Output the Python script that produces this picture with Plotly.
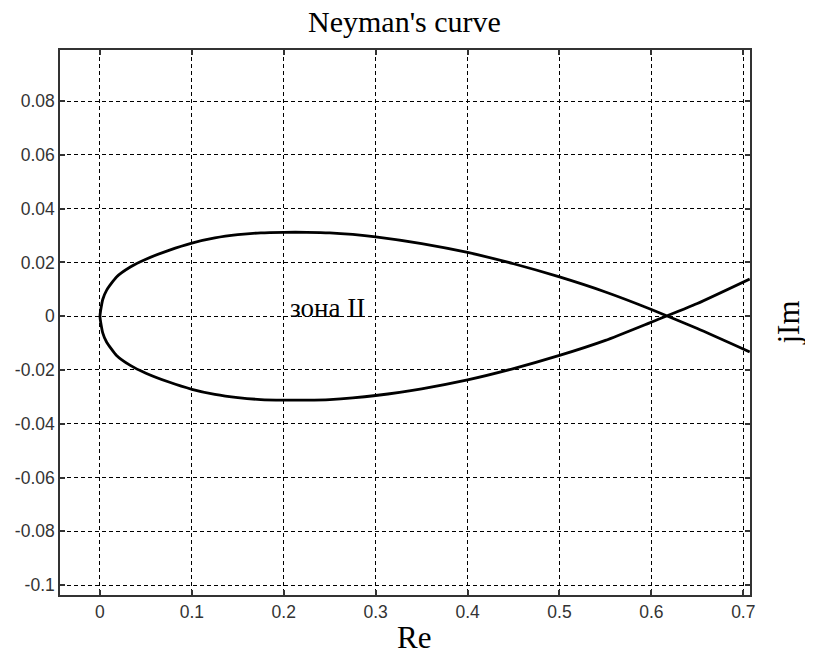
import plotly.graph_objects as go

# Upper branch (Im > 0 near origin)
upper_re = [0.0, 0.003, 0.0073, 0.018, 0.033, 0.05, 0.075, 0.1, 0.125, 0.15, 0.175, 0.2, 0.225, 0.25, 0.275, 0.3, 0.35, 0.4, 0.45, 0.5, 0.55, 0.6, 0.65, 0.707]
upper_im = [0.0, 0.0062, 0.0097, 0.0146, 0.0183, 0.0212, 0.0245, 0.0272, 0.0291, 0.0303, 0.0310, 0.0312, 0.0312, 0.0310, 0.0304, 0.0295, 0.0270, 0.0237, 0.0195, 0.0146, 0.0090, 0.0025, -0.0046, -0.0133]
# Lower branch
lower_re = [0.0, 0.003, 0.0073, 0.018, 0.033, 0.05, 0.075, 0.1, 0.125, 0.15, 0.175, 0.2, 0.225, 0.25, 0.275, 0.3, 0.35, 0.4, 0.45, 0.5, 0.55, 0.6, 0.65, 0.707]
lower_im = [0.0, -0.0062, -0.0097, -0.0146, -0.0183, -0.0212, -0.0245, -0.0272, -0.0291, -0.0303, -0.0310, -0.0312, -0.0312, -0.0310, -0.0304, -0.0295, -0.0270, -0.0237, -0.0195, -0.0146, -0.0090, -0.0022, 0.0047, 0.0138]

x_ticks = [0, 0.1, 0.2, 0.3, 0.4, 0.5, 0.6, 0.7]
x_labels = ["0", "0.1", "0.2", "0.3", "0.4", "0.5", "0.6", "0.7"]
y_ticks = [-0.1, -0.08, -0.06, -0.04, -0.02, 0, 0.02, 0.04, 0.06, 0.08]
y_labels = ["-0.1", "-0.08", "-0.06", "-0.04", "-0.02", "0", "0.02", "0.04", "0.06", "0.08"]

curve_x = list(reversed(lower_re)) + upper_re[1:]
curve_y = list(reversed(lower_im)) + upper_im[1:]

fig = go.Figure()
fig.add_trace(go.Scatter(x=curve_x, y=curve_y, mode="lines",
                         line=dict(color="black", width=2.8, shape="spline", smoothing=0.5),
                         showlegend=False, hoverinfo="skip"))

serif = "Liberation Serif, Times New Roman, serif"
sans = "Liberation Sans, Arial, sans-serif"

axis_common = dict(showline=True, linecolor="#333", linewidth=1.5, mirror="allticks",
                   ticks="inside", ticklen=5, tickcolor="#333", tickwidth=1.5,
                   showgrid=True, gridcolor="black", gridwidth=1, griddash="4px,3px",
                   zeroline=False, automargin=False,
                   tickfont=dict(family=sans, size=17.5, color="#333"))

fig.update_xaxes(range=[-0.0435, 0.7073], tickvals=x_ticks, ticktext=x_labels, **axis_common)
fig.update_yaxes(range=[-0.1037, 0.099], tickvals=y_ticks, ticktext=y_labels, **axis_common)

fig.add_annotation(x=0.248, y=0.003, text="зона II", showarrow=False,
                   font=dict(family=serif, size=27, color="black"))
fig.add_annotation(xref="paper", yref="paper", x=1.0, y=0.5, xshift=38, text="jIm",
                   showarrow=False, textangle=-90, xanchor="center", yanchor="middle",
                   font=dict(family=serif, size=31, color="black"))
fig.add_annotation(xref="paper", yref="paper", x=0.513, y=0.0, yshift=-42, text="Re",
                   showarrow=False, xanchor="center", yanchor="middle",
                   font=dict(family=serif, size=31, color="black"))
# Title as annotation
fig.add_annotation(xref="paper", yref="paper", x=0.499, y=1.0, yshift=29, text="Neyman's curve",
                   showarrow=False, xanchor="center", yanchor="middle",
                   font=dict(family=serif, size=30, color="black"))

fig.update_layout(
    width=813, height=662,
    margin=dict(l=52, r=71, t=42, b=75),
    paper_bgcolor="white", plot_bgcolor="white",
)

fig.write_html("out.html")
